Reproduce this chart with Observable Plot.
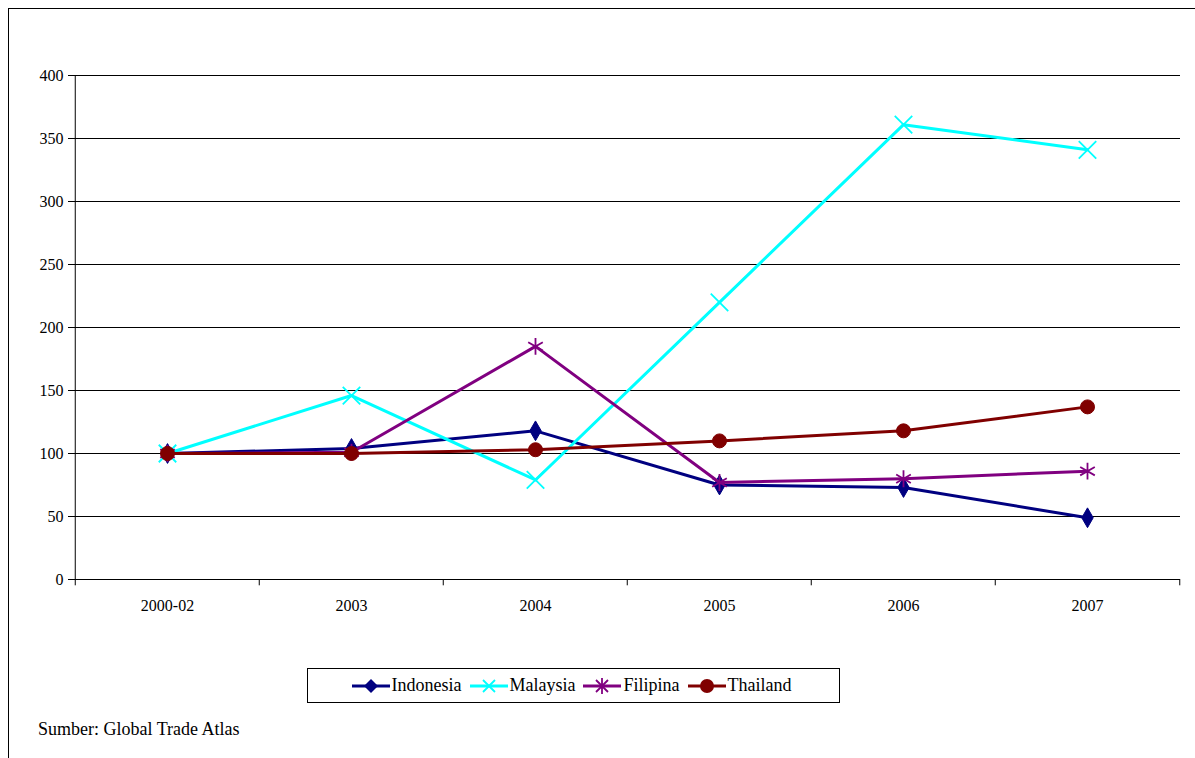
<!DOCTYPE html>
<html><head><meta charset="utf-8">
<script src="https://cdn.jsdelivr.net/npm/d3@7"></script>
<script src="https://cdn.jsdelivr.net/npm/@observablehq/plot@0.6"></script>
<style>
body{margin:0;background:#fff;font-family:"Liberation Serif","Times New Roman",serif;}
#frame{position:absolute;left:8px;top:8px;width:1200px;height:760px;border-left:1px solid #000;border-top:1px solid #000;}
#chart{position:absolute;left:0;top:0;}
#legend{position:absolute;left:307px;top:668px;width:531px;height:33px;border:1px solid #000;display:flex;align-items:center;justify-content:center;gap:4px;font-size:18px;}
#legend span{display:flex;align-items:center;gap:2px;margin-right:4px}
#caption{position:absolute;left:38px;top:719px;font-size:18px;}
</style></head>
<body>
<div id="frame"></div>
<div id="chart"></div>
<div id="legend"></div>
<div id="caption">Sumber: Global Trade Atlas</div>
<script>
const years = ["2000-02","2003","2004","2005","2006","2007"];
const indonesia = [100,104,118,75,73,49];
const malaysia = [100,146,79,220,361,341];
const filipina = [100,101,185,77,80,86];
const thailand = [100,100,103,110,118,137];
const seriesNames = ["Indonesia","Malaysia","Filipina","Thailand"];
const colors = ["#000080","#00FFFF","#800080","#800000"];
const symbols = ["diamond","times","asterisk","circle"];
const yTicks = [0,50,100,150,200,250,300,350,400];

const allSeries = [indonesia, malaysia, filipina, thailand];
const data = allSeries.flatMap((vals, i) => vals.map((v, j) => ({series: seriesNames[i], year: years[j], value: v})));

const half = (1180 - 73) / 6 / 2;
const marks = [
  Plot.ruleY(yTicks.filter(d => d > 0), {stroke: "#000", strokeWidth: 1}),
  Plot.ruleY([0], {stroke: "#000"}),
  Plot.ruleX([0], {x: () => years[0], dx: -half, y1: 0, y2: 400, stroke: "#000"}),
  Plot.ruleX(years, {x: d => d, dx: -half, y1: 0, y2: -5, stroke: "#000", clip: false}),
  Plot.ruleX([years[5]], {x: d => d, dx: half, y1: 0, y2: -5, stroke: "#000", clip: false})
];
seriesNames.forEach((s, i) => {
  const rows = data.filter(d => d.series === s);
  marks.push(Plot.line(rows, {x: "year", y: "value", stroke: colors[i], strokeWidth: 3}));
  const filled = symbols[i] === "diamond" || symbols[i] === "circle";
  marks.push(Plot.dot(rows, {x: "year", y: "value", symbol: () => symbols[i], r: symbols[i] === "diamond" ? 6 : filled ? 7 : 8,
    fill: filled ? colors[i] : "none", stroke: colors[i], strokeWidth: filled ? 1 : 1.8}));
});

const chart = Plot.plot({
  width: 1195, height: 640,
  marginLeft: 73, marginRight: 15, marginTop: 75, marginBottom: 61,
  style: {fontFamily: "Liberation Serif, serif", fontSize: "16px", color: "#000", background: "transparent"},
  x: {type: "band", domain: years, padding: 0, label: null},
  y: {domain: [0, 400], label: null},
  marks: [
    Plot.axisX({tickSize: 0, tickPadding: 20, fontSize: 16}),
    Plot.axisY({ticks: yTicks, tickSize: 5, tickPadding: 5, fontSize: 16}),
    ...marks
  ]
});
document.getElementById("chart").append(chart);

const legend = document.getElementById("legend");
const shapes = {
  diamond: c => `<path d="M19 3 L26 10 L19 17 L12 10Z" fill="${c}"/>`,
  times: c => `<path d="M13 4 L25 16 M25 4 L13 16" stroke="${c}" stroke-width="1.8"/>`,
  asterisk: c => `<path d="M13 4 L25 16 M25 4 L13 16 M19 2 L19 18" stroke="${c}" stroke-width="1.8"/>`,
  circle: c => `<circle cx="19" cy="10" r="7" fill="${c}"/>`
};
seriesNames.forEach((s, i) => {
  const el = document.createElement("span");
  el.innerHTML = `<svg width="38" height="20"><line x1="0" x2="38" y1="10" y2="10" stroke="${colors[i]}" stroke-width="3"/>${shapes[symbols[i]](colors[i])}</svg>${s}`;
  legend.append(el);
});
</script>
</body></html>
